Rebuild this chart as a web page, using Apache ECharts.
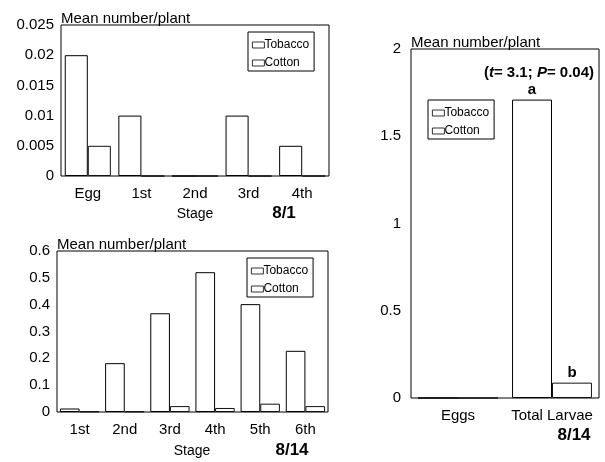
<!DOCTYPE html>
<html>
<head>
<meta charset="utf-8">
<script src="https://cdn.jsdelivr.net/npm/echarts@6/dist/echarts.min.js"></script>
<style>html,body{margin:0;padding:0;background:#fff}#c{width:605px;height:462px}</style>
</head>
<body>
<div id="c"></div>
<script>
// Panel 1 (8/1)
var stages1 = ['Egg', '1st', '2nd', '3rd', '4th'];
var tobacco1 = [0.02, 0.01, 0, 0.01, 0.005];
var cotton1 = [0.005, 0, 0, 0, 0];
// Panel 2 (8/14 by stage)
var stages2 = ['1st', '2nd', '3rd', '4th', '5th', '6th'];
var tobacco2 = [0.013, 0.182, 0.368, 0.521, 0.402, 0.228];
var cotton2 = [0.002, 0.002, 0.022, 0.015, 0.031, 0.022];
// Panel 3 (8/14 totals)
var cats3 = ['Eggs', 'Total Larvae'];
var tobacco3 = [0, 1.71];
var cotton3 = [0, 0.088];
var sigTobacco3 = ['', 'a'];
var sigCotton3 = ['', 'b'];

var FONT = 'Liberation Sans, Arial, sans-serif';
var FS = 15;
var chart = echarts.init(document.getElementById('c'), null, {renderer: 'canvas'});

function grid(l, t, w, h) {
  return {left: l, top: t, width: w, height: h, show: true, borderColor: '#000', borderWidth: 1, backgroundColor: 'transparent', containLabel: false};
}
function xax(idx, data) {
  return {type: 'category', gridIndex: idx, data: data,
    axisLine: {show: false}, axisTick: {show: false},
    axisLabel: {color: '#000', fontSize: FS, fontFamily: FONT, margin: 10, interval: 0, hideOverlap: false}};
}
function yax(idx, max, interval, margin) {
  return {type: 'value', gridIndex: idx, min: 0, max: max, interval: interval,
    splitLine: {show: false}, axisLine: {show: false}, axisTick: {show: false},
    axisLabel: {color: '#000', fontSize: FS, fontFamily: FONT, margin: margin}};
}
var tobStyle = {color: '#fff', borderColor: '#000', borderWidth: 1};
var cotStyle = {color: '#fff', borderColor: '#111', borderWidth: 1};
function bar(name, idx, data, style, gap, label) {
  var s = {name: name, type: 'bar', xAxisIndex: idx, yAxisIndex: idx, data: data,
    itemStyle: style, barGap: '0%', barCategoryGap: gap, animation: false, silent: true};
  if (label) {
    s.label = {show: true, position: 'top', distance: 2, color: '#000', fontWeight: 'bold', fontSize: FS, fontFamily: FONT,
      formatter: function (p) { return label[p.dataIndex]; }};
  }
  return s;
}
function legend(l, t) {
  return {left: l, top: t, orient: 'vertical', data: ['Tobacco', 'Cotton'], icon: 'rect',
    itemWidth: 12, itemHeight: 6, itemGap: 6, padding: [7, 5, 2, 4],
    itemStyle: {color: '#fff', borderColor: '#000', borderWidth: 0.8},
    borderColor: '#000', borderWidth: 1, backgroundColor: '#fff',
    textStyle: {color: '#000', fontSize: 12, fontFamily: FONT, padding: [0, 0, 0, -5]},
    selectedMode: false};
}
function txt(x, y, s, size, bold) {
  return {type: 'text', style: {x: x, y: y, text: s, fill: '#000', font: (bold ? 'bold ' : '') + size + 'px ' + FONT,
    textAlign: 'center', textVerticalAlign: 'middle'}};
}
function ltxt(x, y, s) {
  return {type: 'text', style: {x: x, y: y + 1, text: s, fill: '#000', font: FS + 'px ' + FONT,
    textAlign: 'left', textVerticalAlign: 'bottom'}};
}

chart.setOption({
  animation: false,
  grid: [grid(61, 25, 268, 151), grid(57, 251, 271, 161), grid(411, 49, 188, 349)],
  xAxis: [xax(0, stages1), xax(1, stages2), xax(2, cats3)],
  yAxis: [yax(0, 0.025, 0.005, 7), yax(1, 0.6, 0.1, 7), yax(2, 2, 0.5, 10)],
  legend: [legend(248, 32), legend(247, 258), legend(428, 100)],
  series: [
    bar('Tobacco', 0, tobacco1, tobStyle, '14%'),
    bar('Cotton', 0, cotton1, cotStyle, '14%'),
    bar('Tobacco', 1, tobacco2, tobStyle, '13%'),
    bar('Cotton', 1, cotton2, cotStyle, '13%'),
    bar('Tobacco', 2, tobacco3, tobStyle, '15%', sigTobacco3),
    bar('Cotton', 2, cotton3, cotStyle, '15%', sigCotton3)
  ],
  graphic: [
    ltxt(61, 25, 'Mean number/plant'),
    ltxt(57, 251, 'Mean number/plant'),
    ltxt(411, 49, 'Mean number/plant'),
    txt(195, 214, 'Stage', 14, false),
    txt(284, 213, '8/1', 17, true),
    txt(192, 451, 'Stage', 14, false),
    txt(292, 450, '8/14', 17, true),
    txt(574, 435, '8/14', 17, true),
    {type: 'text', style: {x: 594, y: 73, fill: '#000', textAlign: 'right', textVerticalAlign: 'middle',
      text: '{n|(}{i|t}{n|= 3.1; }{i|P}{n|= 0.04)}',
      rich: {n: {font: 'bold ' + FS + 'px ' + FONT, fill: '#000'}, i: {font: 'italic bold ' + FS + 'px ' + FONT, fill: '#000'}}}}
  ]
});
</script>
</body>
</html>
